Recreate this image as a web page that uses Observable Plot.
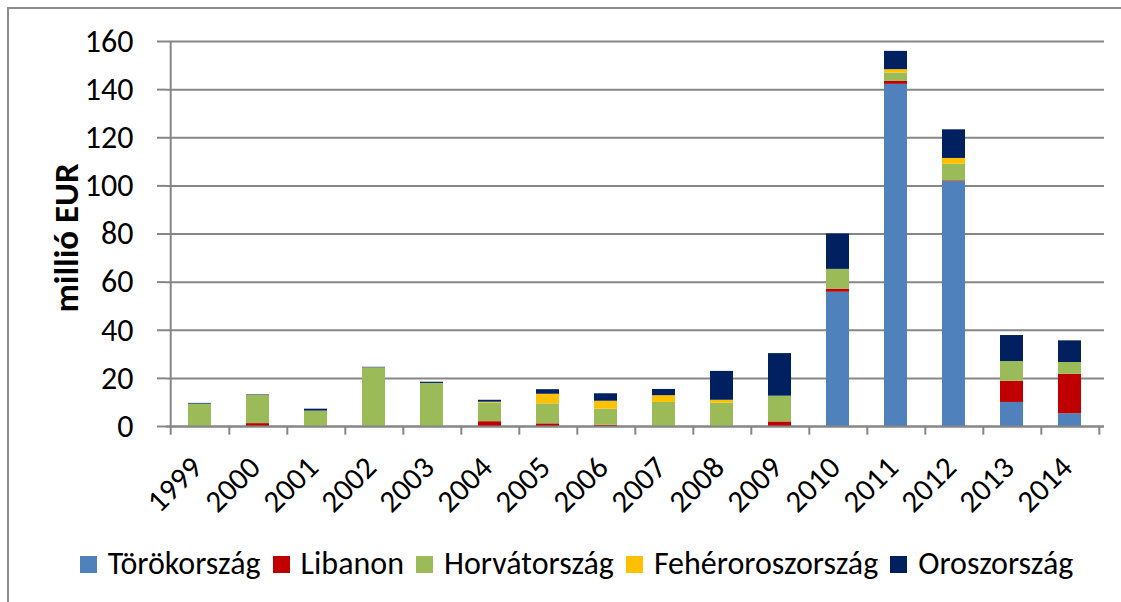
<!DOCTYPE html>
<html><head><meta charset="utf-8">
<script src="https://cdn.jsdelivr.net/npm/d3@7"></script>
<script src="https://cdn.jsdelivr.net/npm/@observablehq/plot@0.6"></script>
<style>
html,body{margin:0;padding:0;background:#fff;overflow:hidden;}
body{width:1121px;height:602px;position:relative;font-family:Calibri,Carlito,Lato,sans-serif;}
#frame{position:absolute;left:7px;top:7px;width:1200px;height:700px;border:2px solid #8c8c8c;box-sizing:border-box;pointer-events:none;}
#chart{position:absolute;left:0;top:0;}
#legend{position:absolute;left:16px;top:546px;width:1121px;display:flex;justify-content:center;gap:12px;font-size:32px;line-height:36px;color:#000;}
#legend span.item{display:flex;align-items:center;}
#legend span.sw{display:inline-block;width:17px;height:17px;margin-right:11px;}
</style></head>
<body>
<div id="chart"></div>
<div id="legend"></div>
<div id="frame"></div>
<script>
const years = ["1999","2000","2001","2002","2003","2004","2005","2006","2007","2008","2009","2010","2011","2012","2013","2014"];
const seriesNames = ["Törökország","Libanon","Horvátország","Fehéroroszország","Oroszország"];
const seriesColors = ["#4F81BD","#C00000","#9BBB59","#FFC000","#002060"];
const torokorszag = [0,0,0,0,0,0,0,0,0,0,0,55.8,142.2,101.8,10.0,5.3];
const libanon = [0,1.2,0,0,0,2.0,1.1,0.5,0,0,1.9,1.3,1.2,0.3,8.8,16.4];
const horvatorszag = [9.3,11.8,6.4,24.4,17.9,7.8,8.3,6.7,10.0,9.7,10.7,8.2,3.5,6.9,8.2,4.9];
const feheroroszorszag = [0,0,0,0,0,0.3,4.0,3.3,2.8,1.2,0,0,1.4,2.4,0,0];
const oroszorszag = [0.3,0.2,0.8,0.2,0.5,0.8,1.9,3.1,2.6,12.0,17.7,14.7,7.6,11.9,10.8,9.0];
const yTicks = [0,20,40,60,80,100,120,140,160];

const seriesValues = [torokorszag, libanon, horvatorszag, feheroroszorszag, oroszorszag];
const rows = [];
seriesNames.forEach((s, si) => years.forEach((y, yi) => rows.push({year: y, series: s, value: seriesValues[si][yi]})));

const W = 1121, H = 530, ML = 166, MR = 17, MT = 41, MB = 104;
const step = (W - ML - MR) / years.length;
const FONT = "Calibri,Carlito,Lato,sans-serif";

const chart = Plot.plot({
  width: W, height: H,
  marginLeft: ML, marginRight: MR, marginTop: MT, marginBottom: MB,
  style: {fontFamily: FONT, fontSize: "32px", color: "#000", background: "transparent"},
  x: {domain: years, paddingInner: 0.6, paddingOuter: 0.3},
  y: {domain: [0, 160]},
  color: {domain: seriesNames, range: seriesColors},
  marks: [
    Plot.gridY(yTicks, {stroke: "#868686", strokeOpacity: 1, strokeWidth: 2}),
    Plot.barY(rows, {x: "year", y: "value", fill: "series", order: seriesNames, inset: 0}),
    Plot.ruleY([0], {stroke: "#868686", strokeWidth: 2}),
    Plot.ruleX([years[0]], {x: d => d, dx: -step / 2, y1: -3.6, y2: 160, stroke: "#868686", strokeWidth: 2}),
    Plot.ruleX(years, {x: d => d, dx: step / 2, y1: 0, y2: -3.6, stroke: "#868686", strokeWidth: 2}),
    Plot.axisY(yTicks, {tickSize: 9, tickPadding: 24, stroke: "#868686", strokeWidth: 2, fontSize: 32, label: null, fill: "#000"}),
    Plot.axisX({ticks: [], label: null}),
    Plot.text(years, {x: d => d, text: d => d, frameAnchor: "bottom", dy: 43, dx: 4, rotate: -45, textAnchor: "end", lineAnchor: "bottom", fontSize: 31, fill: "#000"}),
    Plot.text(["millió EUR"], {frameAnchor: "left", dx: -100, dy: 4, rotate: -90, textAnchor: "middle", lineAnchor: "middle", fontSize: 35, fontWeight: "bold", fill: "#000"})
  ]
});
document.getElementById("chart").appendChild(chart);

const legend = document.getElementById("legend");
seriesNames.forEach((s, i) => {
  const it = document.createElement("span"); it.className = "item";
  const sw = document.createElement("span"); sw.className = "sw"; sw.style.background = seriesColors[i];
  it.appendChild(sw); it.appendChild(document.createTextNode(s));
  legend.appendChild(it);
});
</script>
</body></html>
